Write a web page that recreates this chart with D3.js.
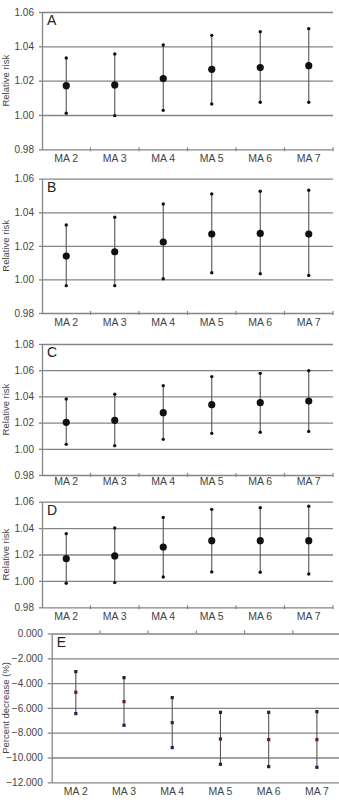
<!DOCTYPE html>
<html>
<head>
<meta charset="utf-8">
<script src="https://cdn.jsdelivr.net/npm/d3@7"></script>
<style>
  body { margin: 0; background: #fff; }
  svg { display: block; font-family: "Liberation Sans", Arial, sans-serif; }
  .grid line { stroke: #858585; stroke-width: 1.3; }
  .grid path { display: none; }
  .yaxis path, .yaxis line { stroke: #858585; stroke-width: 1.3; }
  .yaxis text { fill: #444; font-size: 10px; }
  .xaxis path { display: none; }
  .xaxis line { display: none; }
  .xaxis text { fill: #444; font-size: 10.5px; }
</style>
</head>
<body>
<div id="chart"></div>
<script>
// categories (moving averages)
var categories = ["MA 2", "MA 3", "MA 4", "MA 5", "MA 6", "MA 7"];

// panel A
var aMean  = [1.0171, 1.0175, 1.0212, 1.0266, 1.0276, 1.0287];
var aLower = [1.0010, 0.9996, 1.0027, 1.0064, 1.0074, 1.0074];
var aUpper = [1.0332, 1.0355, 1.0408, 1.0464, 1.0485, 1.0503];

// panel B
var bMean  = [1.0139, 1.0165, 1.0223, 1.0270, 1.0274, 1.0270];
var bLower = [0.9963, 0.9963, 1.0004, 1.0040, 1.0034, 1.0024];
var bUpper = [1.0324, 1.0370, 1.0449, 1.0509, 1.0525, 1.0531];

// panel C
var cMean  = [1.0202, 1.0217, 1.0276, 1.0337, 1.0352, 1.0365];
var cLower = [1.0034, 1.0024, 1.0072, 1.0118, 1.0126, 1.0133];
var cUpper = [1.0380, 1.0416, 1.0482, 1.0551, 1.0576, 1.0596];

// panel D
var dMean  = [1.0168, 1.0189, 1.0257, 1.0305, 1.0305, 1.0305];
var dLower = [0.9982, 0.9987, 1.0030, 1.0068, 1.0065, 1.0052];
var dUpper = [1.0358, 1.0401, 1.0481, 1.0542, 1.0555, 1.0565];

// panel E (percent decrease)
var eMean  = [-4.742, -5.495, -7.188, -8.505, -8.559, -8.559];
var eLower = [-6.462, -7.403, -9.204, -10.548, -10.737, -10.790];
var eUpper = [-3.075, -3.559, -5.172, -6.355, -6.355, -6.301];

// tick labels
var rrTicks   = [0.98, 1.00, 1.02, 1.04, 1.06];
var rrTicksC  = [0.98, 1.00, 1.02, 1.04, 1.06, 1.08];
var pctTicks  = [-12, -10, -8, -6, -4, -2, 0];

var width = 339, height = 807;

var svg = d3.select("#chart").append("svg")
    .attr("width", width)
    .attr("height", height);

// layout of each panel
var panels = [
  {letter: "A", mean: aMean, lower: aLower, upper: aUpper, ticks: rrTicks, top: 12, bottom: 149.3, left: 42, right: 333, labelDy: 12.5, title: "Relative risk"},
  {letter: "B", mean: bMean, lower: bLower, upper: bUpper, ticks: rrTicks, top: 178.7, bottom: 313, left: 42, right: 333, labelDy: 12.5, title: "Relative risk"},
  {letter: "C", mean: cMean, lower: cLower, upper: cUpper, ticks: rrTicksC, top: 344, bottom: 475, left: 42, right: 333, labelDy: 10, title: "Relative risk"},
  {letter: "D", mean: dMean, lower: dLower, upper: dUpper, ticks: rrTicks, top: 501.7, bottom: 607.3, left: 42, right: 333, labelDy: 12, title: "Relative risk"},
  {letter: "E", mean: eMean, lower: eLower, upper: eUpper, ticks: pctTicks, top: 633.5, bottom: 782.3, left: 51.7, right: 341, labelDy: 12.5, title: "Percent decrease (%)", pct: true}
];

panels.forEach(drawPanel);

function drawPanel(p) {
  var g = svg.append("g");

  var x = d3.scaleBand()
      .domain(categories)
      .range([p.left, p.right]);

  var y = d3.scaleLinear()
      .domain(d3.extent(p.ticks))
      .range([p.bottom, p.top]);

  var fmt = p.pct ? d3.format(".3f") : d3.format(".2f");

  // gridlines
  g.append("g")
    .attr("class", "grid")
    .attr("transform", "translate(" + p.left + ",0)")
    .call(d3.axisLeft(y)
      .tickValues(p.ticks)
      .tickSize(-(Math.min(p.right, width) - p.left))
      .tickFormat(""));

  // y axis
  g.append("g")
    .attr("class", "yaxis")
    .attr("transform", "translate(" + p.left + ",0)")
    .call(d3.axisLeft(y)
      .tickValues(p.ticks)
      .tickSize(p.pct ? 4 : 3)
      .tickSizeOuter(0)
      .tickPadding(5)
      .tickFormat(function(d) { return fmt(d).replace("-0.000", "0.000"); }));

  // band boundary ticks on the category axis
  var bounds = categories.map(function(c) { return x(c); }).concat([x(categories[categories.length - 1]) + x.step()]);
  var axisY = p.pct ? y(0) : p.bottom;
  g.append("g").selectAll("line")
    .data(bounds.slice(1).filter(function(b) { return b <= width; }))
    .join("line")
      .attr("x1", function(d) { return d; })
      .attr("x2", function(d) { return d; })
      .attr("y1", p.pct ? axisY - 3 : axisY - 2)
      .attr("y2", p.pct ? axisY : axisY + 2)
      .attr("stroke", "#858585")
      .attr("stroke-width", 1.2);

  // category labels
  g.append("g")
    .attr("class", "xaxis")
    .attr("transform", "translate(0," + p.bottom + ")")
    .call(d3.axisBottom(x).tickSize(0).tickPadding(p.labelDy - 7));

  // y title
  g.append("text")
    .attr("transform", "translate(9," + ((p.top + p.bottom) / 2) + ") rotate(-90)")
    .attr("text-anchor", "middle")
    .attr("font-size", 9.5)
    .attr("fill", "#444")
    .text(p.title);

  // panel letter
  g.append("text")
    .attr("x", p.left + 5)
    .attr("y", p.top + 13)
    .attr("font-size", 14)
    .attr("fill", "#222")
    .text(p.letter);

  var idx = d3.range(categories.length);
  var cx = function(i) { return x(categories[i]) + x.bandwidth() / 2; };

  // whiskers
  g.append("g").selectAll("line")
    .data(idx)
    .join("line")
      .attr("x1", cx)
      .attr("x2", cx)
      .attr("y1", function(i) { return y(p.upper[i]); })
      .attr("y2", function(i) { return y(p.lower[i]); })
      .attr("stroke", "#555")
      .attr("stroke-width", 1.1);

  if (p.pct) {
    var sq = 3.2;
    var sets = [[p.upper, "#1e2a22"], [p.mean, "#5a1f33"], [p.lower, "#1e2258"]];
    sets.forEach(function(s) {
      g.append("g").selectAll("rect")
        .data(idx)
        .join("rect")
          .attr("x", function(i) { return cx(i) - sq / 2; })
          .attr("y", function(i) { return y(s[0][i]) - sq / 2; })
          .attr("width", sq)
          .attr("height", sq)
          .attr("fill", s[1]);
    });
  } else {
    [p.upper, p.lower].forEach(function(arr) {
      g.append("g").selectAll("circle")
        .data(idx)
        .join("circle")
          .attr("cx", cx)
          .attr("cy", function(i) { return y(arr[i]); })
          .attr("r", 1.7)
          .attr("fill", "#111");
    });
    g.append("g").selectAll("circle")
      .data(idx)
      .join("circle")
        .attr("cx", cx)
        .attr("cy", function(i) { return y(p.mean[i]); })
        .attr("r", 3.6)
        .attr("fill", "#111");
  }
}
</script>
</body>
</html>
